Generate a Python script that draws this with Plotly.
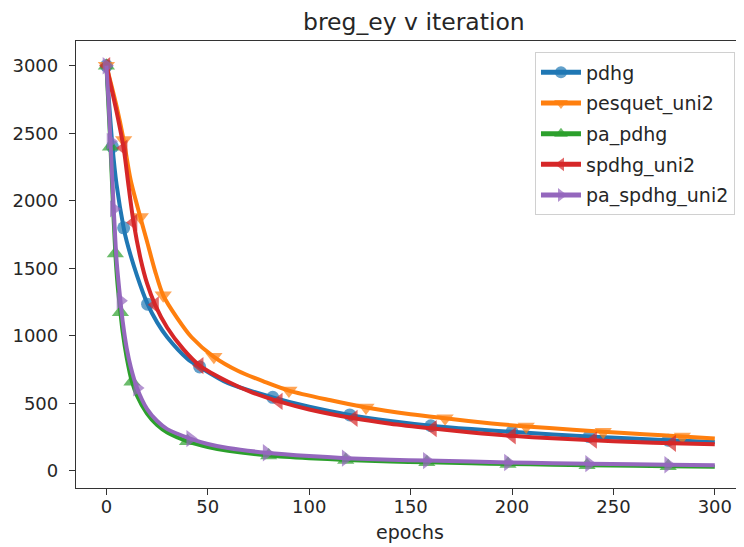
import plotly.graph_objects as go

# ---- data ----
pdhg_x = [0, 3, 5, 8.5, 10, 15, 20.3, 25, 30, 40, 46, 60, 82, 100, 120, 140, 160, 180, 200, 238, 277, 300]
pdhg_y = [3000, 2400, 2120, 1800, 1700, 1450, 1235, 1100, 990, 830, 770, 650, 545, 475, 415, 370, 335, 310, 290, 255, 228, 215]
pdhg_marks = [0, 3, 8.5, 20.3, 46, 82, 120, 160, 200, 238, 277]

pesquet_x = [0, 5, 8.5, 12, 16.7, 20, 24, 28, 35, 42, 53, 65, 78, 90, 110, 128, 150, 167, 190, 207, 230, 245, 265, 284, 300]
pesquet_y = [3000, 2700, 2450, 2150, 1880, 1700, 1480, 1300, 1130, 990, 845, 740, 660, 595, 525, 470, 420, 390, 352, 330, 305, 290, 272, 255, 240]
pesquet_marks = [0, 8.5, 16.7, 28, 53, 90, 128, 167, 207, 245, 284]

papdhg_x = [0, 1, 2, 3, 4.4, 5.5, 6.9, 8, 10, 12.6, 15, 20, 25, 30, 40, 50, 60, 80, 100, 118, 140, 158, 180, 198, 220, 237, 260, 277, 300]
papdhg_y = [3000, 2700, 2400, 2050, 1610, 1380, 1175, 1030, 840, 660, 560, 425, 340, 285, 220, 178, 150, 115, 95, 82, 71, 64, 57, 52, 47, 43, 38, 35, 31]
papdhg_marks = [0, 2, 4.4, 6.9, 12.6, 40, 80, 118, 158, 198, 237, 277]

spdhg_x = [0, 5, 8.5, 11, 13.4, 17, 20, 24, 30, 38, 46, 60, 72, 85, 100, 122, 140, 161, 180, 200, 220, 240, 260, 279, 300]
spdhg_y = [3000, 2660, 2390, 2100, 1840, 1560, 1390, 1230, 1060, 900, 780, 660, 580, 515, 455, 390, 350, 314, 285, 260, 242, 228, 214, 205, 197]
spdhg_marks = [0, 8.5, 13.4, 24, 46, 85, 122, 161, 200, 240, 279]

paspdhg_x = [0, 1, 2, 3.6, 5, 6.9, 8, 10, 12, 15.1, 20, 25, 30, 41.3, 50, 60, 79, 100, 118, 140, 158, 180, 198, 220, 238, 260, 277, 300]
paspdhg_y = [3000, 2750, 2440, 1940, 1560, 1260, 1110, 910, 770, 615, 460, 370, 310, 240, 200, 170, 135, 110, 95, 84, 77, 70, 63, 58, 54, 50, 46, 42]
paspdhg_marks = [0, 2, 3.6, 6.9, 15.1, 41.3, 79, 118, 158, 198, 238, 277]

names = ["pdhg", "pesquet_uni2", "pa_pdhg", "spdhg_uni2", "pa_spdhg_uni2"]
x_ticks = [0, 50, 100, 150, 200, 250, 300]
y_ticks = [0, 500, 1000, 1500, 2000, 2500, 3000]

series = [
    (pdhg_x, pdhg_y, pdhg_marks),
    (pesquet_x, pesquet_y, pesquet_marks),
    (papdhg_x, papdhg_y, papdhg_marks),
    (spdhg_x, spdhg_y, spdhg_marks),
    (paspdhg_x, paspdhg_y, paspdhg_marks),
]
colors = ["#1f77b4", "#ff7f0e", "#2ca02c", "#d62728", "#9467bd"]
symbols = ["circle", "triangle-down", "triangle-up", "triangle-left", "triangle-right"]
msizes = [13, 15, 15, 15, 15]

fig = go.Figure()
for (xs, ys, mk), name, c, s, ms in zip(series, names, colors, symbols, msizes):
    sizes = [ms if x in mk else 0 for x in xs]
    fig.add_trace(go.Scatter(
        x=xs, y=ys, name=name, legendgroup=name, mode="lines+markers",
        line=dict(color=c, width=4, shape="spline", smoothing=0.8),
        marker=dict(color=c, symbol=s, size=sizes, line=dict(width=0)),
    ))

# page body has an 8px default margin; the figure is sized to fill the 744x547 window
W, H = 736, 539
fig.update_layout(
    width=W, height=H,
    margin=dict(l=68, r=0, t=33, b=59, autoexpand=False),
    paper_bgcolor="white", plot_bgcolor="white",
    font=dict(family="DejaVu Sans", size=18, color="#262626"),
    title=dict(text="breg_ey v iteration", x=0.5515, xanchor="center",
               y=1 - 22 / H, yanchor="bottom", yref="container",
               font=dict(size=23.5, color="#262626")),
    legend=dict(x=0.9865, xanchor="right", y=0.9745, yanchor="top",
                bgcolor="rgba(255,255,255,0.8)", bordercolor="#d0d0d0", borderwidth=1,
                font=dict(size=19, color="#262626"), itemsizing="constant",
                itemwidth=40, tracegroupgap=3),
    showlegend=True,
)
fig.update_xaxes(
    range=[-15, 314.4], tickvals=x_ticks, ticks="outside", ticklen=6, tickwidth=1.2,
    tickcolor="#333", showline=True, linecolor="#333", linewidth=1.3, mirror=True,
    showgrid=False, zeroline=False, tickfont=dict(size=18), automargin=False,
    ticklabelstandoff=-4,
    title=dict(text="epochs", font=dict(size=19), standoff=9),
)
fig.update_yaxes(
    range=[-126, 3183], tickvals=y_ticks, ticks="outside", ticklen=6, tickwidth=1.2,
    tickcolor="#333", showline=True, linecolor="#333", linewidth=1.3, mirror=False,
    showgrid=False, zeroline=False, tickfont=dict(size=18), ticklabelstandoff=7,
    automargin=False,
)
fig.write_html("out.html")
